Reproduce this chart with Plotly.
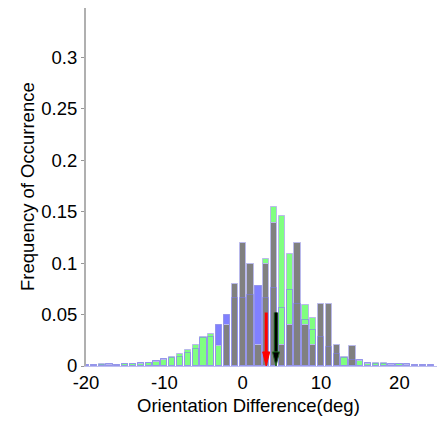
import plotly.graph_objects as go

# Histogram bin centres (deg)
bins = list(range(-20, 25))

# Frequency of occurrence per bin for the three distributions
freq_blue = [0.0008, 0.001, 0.0012, 0.0015, 0.001, 0.0015, 0.002, 0.0025, 0.003, 0.0045,
             0.007, 0.0075, 0.009, 0.013, 0.0165, 0.027, 0.028, 0.040, 0.050, 0.066,
             0.066, 0.069, 0.078, 0.066, 0.076, 0.056, 0.074, 0.060, 0.045, 0.035,
             0.028, 0.018, 0.012, 0.008, 0.006, 0.0055, 0.0026, 0.0022, 0.002, 0.0016,
             0.0015, 0.0015, 0.001, 0.0008, 0.0005]
freq_green = [0.0005, 0.0008, 0.0015, 0.001, 0.0008, 0.0015, 0.0018, 0.002, 0.0032, 0.004,
              0.0058, 0.009, 0.0117, 0.0156, 0.020, 0.0283, 0.031, 0.0195, 0.018, 0.02,
              0.025, 0.03, 0.015, 0.104, 0.1545, 0.1455, 0.109, 0.088, 0.059, 0.047,
              0.037, 0.021, 0.012, 0.009, 0.006, 0.0049, 0.002, 0.003, 0.003, 0.0012,
              0.002, 0.0012, 0.0008, 0.0005, 0.0003]
freq_gray = [0, 0, 0, 0, 0, 0, 0, 0, 0, 0,
             0, 0, 0, 0, 0, 0, 0, 0, 0.040, 0.080,
             0.120, 0.099, 0.020, 0.099, 0.139, 0.020, 0.040, 0.120, 0.040, 0.020,
             0.060, 0.060, 0.020, 0, 0.0195, 0, 0, 0, 0, 0,
             0, 0, 0, 0, 0]

# Mean orientation differences marked by arrows
arrow_x = [3.0, 4.25]
arrow_top = 0.052
arrow_colors = ["#ff0000", "#000000"]
arrow_edges = ["#ff0000", "#1f6b1f"]

y_ticks = [0, 0.05, 0.1, 0.15, 0.2, 0.25, 0.3]
y_ticklabels = ["0", "0.05", "0.1", "0.15", "0.2", "0.25", "0.3"]
x_ticks = [-20, -10, 0, 10, 20]
x_ticklabels = ["-20", "-10", "0", "10", "20"]

FONT = "Liberation Sans, Arial, sans-serif"
EDGE = "rgb(185,185,235)"
BAR_W = 0.8

fig = go.Figure()
for vals, col in [(freq_blue, "rgb(128,128,255)"),
                  (freq_green, "rgb(128,255,128)"),
                  (freq_gray, "rgb(128,128,128)")]:
    fig.add_trace(go.Bar(x=bins, y=vals, width=BAR_W, marker_color=col,
                         marker_line=dict(color=EDGE, width=1), showlegend=False))

# faint outline of the blue histogram drawn over everything
fig.add_trace(go.Bar(x=bins, y=freq_blue, width=BAR_W, marker_color="rgba(0,0,0,0)",
                     marker_line=dict(color="rgba(120,120,235,0.55)", width=1),
                     showlegend=False))

# arrows: shaft + triangular head
head_hw = 0.45
head_h = 0.0137
for ax, c, e in zip(arrow_x, arrow_colors, arrow_edges):
    if e != c:
        fig.add_trace(go.Scatter(x=[ax, ax], y=[arrow_top, head_h], mode="lines",
                                 line=dict(color=e, width=4.5), showlegend=False,
                                 hoverinfo="skip"))
    fig.add_trace(go.Scatter(x=[ax, ax], y=[arrow_top, head_h], mode="lines",
                             line=dict(color=c, width=2.5 if e != c else 3),
                             showlegend=False, hoverinfo="skip"))
    fig.add_trace(go.Scatter(x=[ax - head_hw, ax + head_hw, ax, ax - head_hw],
                             y=[head_h, head_h, 0, head_h], mode="lines",
                             fill="toself", fillcolor=c,
                             line=dict(color=e, width=1), showlegend=False,
                             hoverinfo="skip"))

W, H = 438, 422
ML, MR, MT, MB = 86, 1, 8, 56
pw = W - ML - MR
ph = H - MT - MB


def px_to_paper(x, y):
    return (x - ML) / pw, (H - MB - y) / ph


tx, ty = px_to_paper(248, 405)
yx, yy = px_to_paper(27, 187)

fig.update_layout(
    width=W, height=H,
    margin=dict(l=ML, r=MR, t=MT, b=MB),
    paper_bgcolor="white", plot_bgcolor="white",
    barmode="overlay", bargap=0,
    font=dict(family=FONT, size=18, color="black"),
    xaxis=dict(range=[-20, 24.8], tickvals=x_ticks, ticktext=x_ticklabels,
               showgrid=False, zeroline=False, showline=True,
               linecolor="rgb(190,190,240)", linewidth=1, ticks="",
               tickfont=dict(size=18.5)),
    yaxis=dict(range=[0, 0.348], tickvals=y_ticks, ticktext=y_ticklabels,
               showgrid=False, zeroline=False, showline=True,
               linecolor="rgb(176,176,176)", linewidth=2, ticks="outside",
               ticklen=3, tickcolor="rgb(150,150,150)", tickwidth=1,
               tickfont=dict(size=18.5)),
    annotations=[
        dict(text="Orientation Difference(deg)", x=tx, y=ty, xref="paper",
             yref="paper", xanchor="center", yanchor="middle", showarrow=False,
             font=dict(size=18.5)),
        dict(text="Frequency of Occurrence", x=yx, y=yy, xref="paper",
             yref="paper", xanchor="center", yanchor="middle", showarrow=False,
             textangle=-90, font=dict(size=18.5)),
    ],
)

fig.write_html("out.html")
